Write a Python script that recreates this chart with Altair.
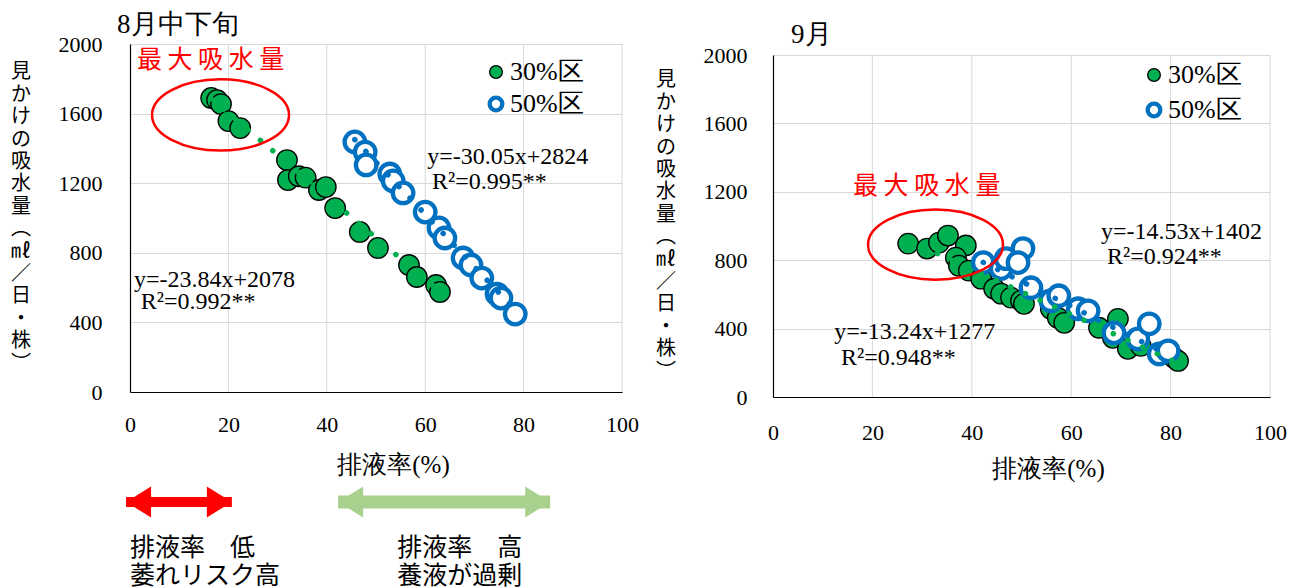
import altair as alt
import pandas as pd

SERIES = ["30%区", "50%区"]
GREEN, BLUE, RED, LIGHT_GREEN = "#00B050", "#0070C0", "#FF0000", "#A9D18E"
GRID = "#D9D9D9"
SERIF = "Liberation Serif"
SANS = "Noto Sans CJK JP"

# ---------------- 8月中下旬: drainage rate (%) vs apparent uptake ----------------
aug_rate_30 = [16.5, 17.7, 18.5, 20.0, 22.4, 31.9, 32.1, 34.3, 35.7, 38.4, 39.8,
               41.7, 46.7, 50.4, 56.7, 58.3, 62.2, 63.0]
aug_uptake_30 = [1690, 1678, 1655, 1557, 1517, 1333, 1218, 1240, 1232, 1161, 1178,
                 1057, 920, 828, 730, 661, 615, 575]
aug_rate_50 = [45.7, 47.8, 48.0, 52.8, 53.5, 55.5, 60.0, 62.8, 64.0, 67.7, 69.3,
               71.5, 74.6, 75.4, 78.3]
aug_uptake_50 = [1437, 1379, 1305, 1253, 1213, 1144, 1034, 943, 885, 770, 730,
                 655, 563, 540, 448]
aug_slope = [-23.84, -30.05]
aug_intercept = [2078, 2824]
aug_r2 = ["0.992", "0.995"]

# ---------------- 9月 ----------------
sep_rate_30 = [27.2, 31.0, 33.4, 35.2, 38.8, 36.8, 37.4, 39.4, 41.9, 44.5, 45.9,
               47.9, 49.9, 50.5, 55.9, 57.3, 58.6, 65.6, 69.4, 68.4, 71.4, 74.0,
               78.1, 80.7, 81.5]
sep_uptake_30 = [897, 868, 903, 944, 886, 815, 768, 739, 692, 633, 604,
                 581, 563, 545, 516, 463, 434, 405, 457, 346, 282, 299,
                 258, 229, 211]
sep_rate_50 = [42.3, 45.9, 46.9, 50.3, 49.3, 51.9, 55.9, 57.5, 61.4, 63.4, 68.6,
               73.4, 75.7, 77.7, 79.5]
sep_uptake_50 = [786, 751, 809, 868, 786, 639, 563, 592, 516, 504, 375,
                 340, 428, 252, 270]
sep_slope = [-13.24, -14.53]
sep_intercept = [1277, 1402]
sep_r2 = ["0.948", "0.924"]

# equation label anchors, [30%区, 50%区]
aug_eq_x, aug_eq_y = [0.8, 60.4], [644, 1351]
aug_r2_x, aug_r2_y = [2.2, 61.4], [517, 1207]
sep_eq_x, sep_eq_y = [12.3, 66.0], [381, 962]
sep_r2_x, sep_r2_y = [13.7, 67.2], [229, 821]

# "最大吸水量" highlight: ellipse centre and label anchor
aug_peak = (18.4, 1592)
aug_peak_label = (1.4, 1908)
sep_peak = (32.7, 891)
sep_peak_label = (16.1, 1232)
PEAK_TEXT = "最 大 吸 水 量"

# drainage-rate ranges shown under the first panel
range_lo = [-0.8, 42.3]
range_hi = [20.7, 85.4]
range_color = [RED, LIGHT_GREEN]
range_width = [10, 13]
range_note_x = [0, 54.3]
range_note_1 = ["排液率　低", "排液率　高"]
range_note_2 = ["萎れリスク高", "養液が過剰"]

X_TICKS = [0, 20, 40, 60, 80, 100]
Y_TICKS = [0, 400, 800, 1200, 1600, 2000]

Y_TITLE = ["見", "か", "け", "の", "吸", "水", "量", "︵", "㎖", "／", "日", "・", "株", "︶"]
Y_TITLE_LH = 22.4
ELLIPSE = "M-1,0A1,0.52,0,1,1,1,0A1,0.52,0,1,1,-1,0Z"
HEAD_L = "M0,0L1,-0.62L1,0.62Z"
HEAD_R = "M0,0L-1,-0.62L-1,0.62Z"


def panel(rate30, up30, rate50, up50, slope, intercept, r2,
          eq_x, eq_y, r2_x, r2_y, peak, peak_w, peak_label,
          title, title_pos, w, h, legend_pos, legend_gap,
          xlab_pad, xtitle_pos, ylab_pad, ytitle_x, top_pad=0, ranges=False):
    # the plot frame sits top_pad pixels below the top of its cell
    full_h = h + top_pad
    xs = alt.Scale(domain=[0, 100], nice=False, zero=False)
    ys = alt.Scale(domain=[0, 2000], nice=False, range=[full_h, top_pad])
    x_axis = alt.Axis(values=X_TICKS, title="排液率(%)", grid=False,
                      domainColor="black", domainWidth=1.2, ticks=False,
                      labelFont=SERIF, labelFontSize=22, labelColor="black",
                      labelPadding=xlab_pad, labelFlush=False,
                      titleFont=SERIF, titleFontSize=25, titleFontWeight="normal",
                      titleColor="black", titleX=xtitle_pos[0], titleY=xtitle_pos[1],
                      titleBaseline="middle", titleAlign="center")
    y_axis = alt.Axis(values=Y_TICKS, title=None, grid=True, format="d",
                      gridColor=GRID, domainColor="black", domainWidth=1.2, ticks=False,
                      labelFont=SERIF, labelFontSize=22, labelColor="black",
                      labelPadding=ylab_pad, labelFlush=False)
    x_enc = alt.X("rate:Q", scale=xs, axis=x_axis)
    y_enc = alt.Y("uptake:Q", scale=ys, axis=y_axis)

    # vertical grid lines spanning the value range only
    vg = pd.DataFrame({"rate": X_TICKS[1:], "uptake": [0] * 5, "top": [2000] * 5})
    layers = [alt.Chart(vg).mark_rule(color=GRID, strokeWidth=1)
              .encode(x=x_enc, y=y_enc, y2="top:Q")]

    pts = pd.DataFrame({
        "rate": rate30 + rate50,
        "uptake": up30 + up50,
        "区": [SERIES[0]] * len(rate30) + [SERIES[1]] * len(rate50),
    })
    leg = alt.Legend(title=None, orient="none", legendX=legend_pos[0],
                     legendY=legend_pos[1] + top_pad,
                     labelFont=SERIF, labelFontSize=26, labelColor="black", symbolSize=160,
                     rowPadding=legend_gap, labelOffset=1, padding=0, symbolType="circle")
    layers.append(alt.Chart(pts).mark_circle(size=420, opacity=1).encode(
        x=x_enc, y=y_enc,
        fill=alt.Fill("区:N", scale=alt.Scale(domain=SERIES, range=[GREEN, "white"]), legend=leg),
        stroke=alt.Stroke("区:N", scale=alt.Scale(domain=SERIES, range=["black", BLUE]), legend=leg),
        strokeWidth=alt.StrokeWidth("区:N", scale=alt.Scale(domain=SERIES, range=[1.3, 4.3]), legend=leg),
    ))

    # dotted regression lines over each series' range
    for k, (rates, color) in enumerate([(rate30, GREEN), (rate50, BLUE)]):
        lo, hi = min(rates), max(rates)
        tdf = pd.DataFrame({"rate": [lo, hi],
                            "uptake": [slope[k] * lo + intercept[k], slope[k] * hi + intercept[k]]})
        layers.append(alt.Chart(tdf).mark_line(color=color, strokeWidth=5.5, strokeDash=[0.1, 16],
                                               strokeCap="round").encode(x=x_enc, y=y_enc))

    eq = pd.DataFrame({
        "rate": eq_x + r2_x,
        "uptake": eq_y + r2_y,
        "label": [f"y={slope[i]}x+{intercept[i]}" for i in range(2)] + [f"R²={v}**" for v in r2],
    })
    layers.append(alt.Chart(eq).mark_text(align="left", baseline="middle", font=SERIF,
                                          fontSize=24, color="black")
                  .encode(x=x_enc, y=y_enc, text="label:N"))

    pk = pd.DataFrame({"rate": [peak[0]], "uptake": [peak[1]]})
    layers.append(alt.Chart(pk).mark_point(shape=ELLIPSE, size=peak_w ** 2, filled=False,
                                           color=RED, strokeWidth=2.5, opacity=1)
                  .encode(x=x_enc, y=y_enc))
    pl = pd.DataFrame({"rate": [peak_label[0]], "uptake": [peak_label[1]], "t": [PEAK_TEXT]})
    layers.append(alt.Chart(pl).mark_text(align="left", baseline="middle", font=SANS,
                                          fontSize=25, color=RED)
                  .encode(x=x_enc, y=y_enc, text="t:N"))

    one = pd.DataFrame({"t": [title]})
    layers.append(alt.Chart(one).mark_text(align="left", baseline="middle", font=SERIF,
                                           fontSize=27, color="black")
                  .encode(text="t:N", x=alt.value(title_pos[0]),
                          y=alt.value(title_pos[1] + top_pad)))
    # stacked vertical axis title, first glyph placed so the column is centred on the frame
    first_line = top_pad + h / 2 - (len(Y_TITLE) - 1) * Y_TITLE_LH / 2
    layers.append(alt.Chart(one).mark_text(text=Y_TITLE, lineHeight=Y_TITLE_LH, font=SANS,
                                           fontSize=20, align="center", baseline="middle",
                                           color="black")
                  .encode(x=alt.value(ytitle_x), y=alt.value(first_line)))

    if ranges:
        for k in range(2):
            seg = pd.DataFrame({"rate": [range_lo[k]], "rate_end": [range_hi[k]]})
            layers.append(alt.Chart(seg).mark_rule(color=range_color[k], strokeWidth=range_width[k],
                                                   strokeCap="butt")
                          .encode(x=x_enc, x2=alt.X2("rate_end:Q"), y=alt.value(full_h + 110)))
            for pos, head in [(range_lo[k], HEAD_L), (range_hi[k], HEAD_R)]:
                hd = pd.DataFrame({"rate": [pos]})
                layers.append(alt.Chart(hd).mark_point(shape=head, size=2500, filled=True,
                                                       color=range_color[k], opacity=1)
                              .encode(x=x_enc, y=alt.value(full_h + 110)))
        notes = pd.DataFrame({"rate": range_note_x, "l1": range_note_1, "l2": range_note_2})
        layers.append(alt.Chart(notes).mark_text(align="left", baseline="middle", font=SANS,
                                                 fontSize=25, color="black")
                      .encode(x=x_enc, y=alt.value(full_h + 156), text="l1:N"))
        layers.append(alt.Chart(notes).mark_text(align="left", baseline="middle", font=SANS,
                                                 fontSize=25, color="black")
                      .encode(x=x_enc, y=alt.value(full_h + 184), text="l2:N"))

    return alt.layer(*layers).properties(width=w, height=full_h)


aug = panel(aug_rate_30, aug_uptake_30, aug_rate_50, aug_uptake_50, aug_slope, aug_intercept,
            aug_r2, aug_eq_x, aug_eq_y, aug_r2_x, aug_r2_y, aug_peak, 137, aug_peak_label,
            "8月中下旬", (-13, -19), 492, 348, (353, 15), 4, 22, (263, 72), 28, -109,
            ranges=True)
sep = panel(sep_rate_30, sep_uptake_30, sep_rate_50, sep_uptake_50, sep_slope, sep_intercept,
            sep_r2, sep_eq_x, sep_eq_y, sep_r2_x, sep_r2_y, sep_peak, 135, sep_peak_label,
            "9月", (18, -20), 497, 342, (368, 7), 7, 25, (275, 71), 26, -107,
            top_pad=11)

chart = (
    alt.hconcat(aug, sep, spacing=17)
    .resolve_scale(x="independent", y="independent", fill="independent",
                   stroke="independent", strokeWidth="independent")
    .resolve_legend(fill="independent", stroke="independent", strokeWidth="independent")
    .properties(padding={"left": 11, "top": 11, "right": 0, "bottom": 0}, background="white")
    .configure(font=SERIF)
    .configure_view(stroke=None)
    .configure_axis(labelFont=SERIF, titleFont=SERIF)
    .configure_legend(labelFont=SERIF)
)

chart.save("out.html", embed_options={"renderer": "svg", "actions": False})
